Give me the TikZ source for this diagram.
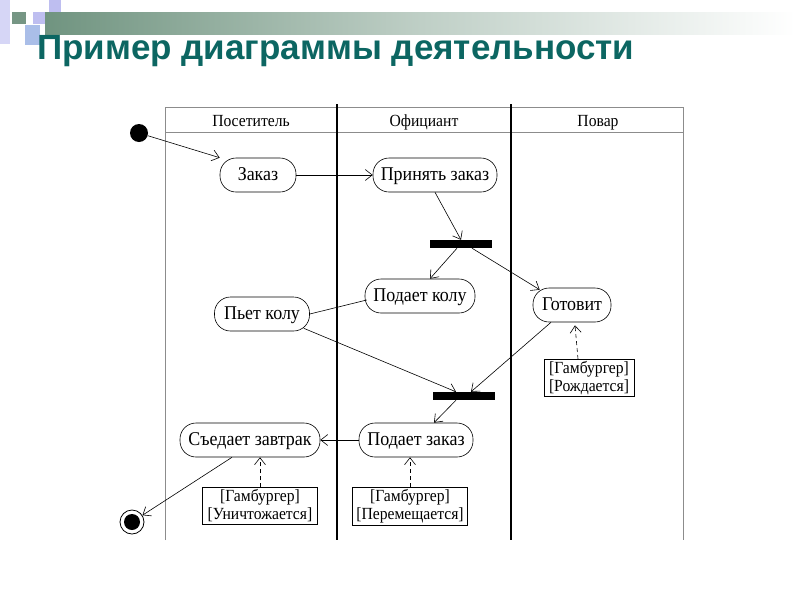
\documentclass[tikz,border=0pt]{standalone}
\usepackage{fontspec}
\setmainfont{Liberation Serif}[FakeStretch=0.92]
\newfontfamily\titlefont{Liberation Sans}
\usetikzlibrary{arrows.meta,calc}
\definecolor{titlecol}{RGB}{12,102,98}
\definecolor{lavA}{RGB}{214,214,246}
\definecolor{lavB}{RGB}{190,190,240}
\definecolor{blueA}{RGB}{170,190,232}
\definecolor{greenA}{RGB}{118,150,132}
\definecolor{bandcol}{RGB}{112,148,128}
\definecolor{framecol}{RGB}{140,140,140}
\begin{document}
\begin{tikzpicture}[x=1pt,y=-1pt,
  act/.style={draw, line width=0.6pt, rounded corners=16pt, minimum height=34pt, inner sep=0pt, text height=14pt, text depth=3pt, font=\fontsize{19.5}{21}\selectfont},
  notebox/.style={draw, line width=0.6pt, inner sep=2pt, align=center, font=\fontsize{17}{18}\selectfont},
  lanehead/.style={text height=13pt, text depth=3pt, inner sep=0pt, font=\fontsize{17}{18}\selectfont},
  bar/.style={fill=black, minimum width=62pt, minimum height=8pt, inner sep=0pt},
  arr/.style={draw, line width=0.6pt, -{Straight Barb[length=7pt,width=11pt]}},
  dasharr/.style={arr, dash pattern=on 4pt off 3pt},
  plain/.style={draw, line width=0.6pt},
  frame/.style={draw=framecol, line width=1pt},
  divider/.style={draw=black, line width=2pt}]
\path[use as bounding box] (0,0) rectangle (800,600);
% decoration
\fill[lavA] (0,0) rectangle (10,44);
\fill[lavB] (49,0) rectangle (61,14);
\fill[lavB] (33,12) rectangle (48,24);
\fill[greenA] (12,12) rectangle (26,24);
\fill[blueA] (25,25) rectangle (40,45);
\shade[left color=bandcol, right color=white, middle color=bandcol!45!white] (45,12) rectangle (795,34);
% title
\node[anchor=base west, font=\titlefont\bfseries\fontsize{35}{40}\selectfont, text=titlecol, inner sep=0] (title) at (37,59) {Пример диаграммы деятельности};
% swimlanes
\draw[frame] (165,540) -- (165,107) -- (683,107) -- (683,540);
\draw[frame] (165,132) -- (683,132);
\draw[divider] (337,104) -- (337,540);
\draw[divider] (511,104) -- (511,540);
\node[lanehead] (h1) at (251,121) {Посетитель};
\node[lanehead] (h2) at (424,121) {Официант};
\node[lanehead] (h3) at (598,121) {Повар};
% nodes
\node[circle, fill=black, minimum size=18pt, inner sep=0pt] (start) at (139,133) {};
\node[act, minimum width=76pt] (zakaz) at (258,175) {Заказ};
\node[act, minimum width=124pt] (prin) at (435,175) {Принять заказ};
\node[bar] (bar1) at (461,244) {};
\node[act, minimum width=110pt] (kolu) at (420,296) {Подает колу};
\node[act, minimum width=95pt] (pyet) at (262,314) {Пьет колу};
\node[act, minimum width=78pt] (gotov) at (572,305) {Готовит};
\node[notebox, minimum width=90pt] (note1) at (589,378) {[Гамбургер]\\{}[Рождается]};
\node[bar] (bar2) at (464,396) {};
\node[act, minimum width=114pt] (podz) at (416,440) {Подает заказ};
\node[act, minimum width=140pt] (syed) at (250,440) {Съедает завтрак};
\node[notebox, minimum width=115pt] (note2) at (260,506) {[Гамбургер]\\{}[Уничтожается]};
\node[notebox, minimum width=115pt] (note3) at (410,506) {[Гамбургер]\\{}[Перемещается]};
\node[circle, draw, line width=0.8pt, minimum size=24pt, inner sep=0pt] (end) at (132,522) {};
\fill (end.center) circle (8);
% connectors
\draw[arr] (start) -- (zakaz.north west);
\draw[arr] (zakaz) -- (prin);
\draw[arr] (prin.south) -- (bar1.north);
\draw[arr] ($(bar1.south)+(-4,0)$) -- ($(kolu.north)+(10,0)$);
\draw[arr] ($(bar1.south)+(11,0)$) -- ($(gotov.north west)+(7,2)$);
\draw[plain] ($(kolu.west)+(2,4)$) -- (pyet.east);
\draw[arr] ($(pyet.south east)+(-6,-3)$) -- ($(bar2.north)+(-8,0)$);
\draw[arr] ($(gotov.south)+(-21,0)$) -- ($(bar2.north)+(7,0)$);
\draw[arr] ($(bar2.south)+(-8,0)$) -- ($(podz.north)+(18,0)$);
\draw[arr] (podz) -- (syed);
\draw[arr] ($(syed.south)+(-18,0)$) -- (end);
\draw[dasharr] ($(note1.north)+(-11,0)$) -- ($(gotov.south)+(3,3)$);
\draw[dasharr] (note2.north) -- ($(syed.south)+(10,0)$);
\draw[dasharr] (note3.north) -- ($(podz.south)+(-6,0)$);
\end{tikzpicture}
\end{document}
